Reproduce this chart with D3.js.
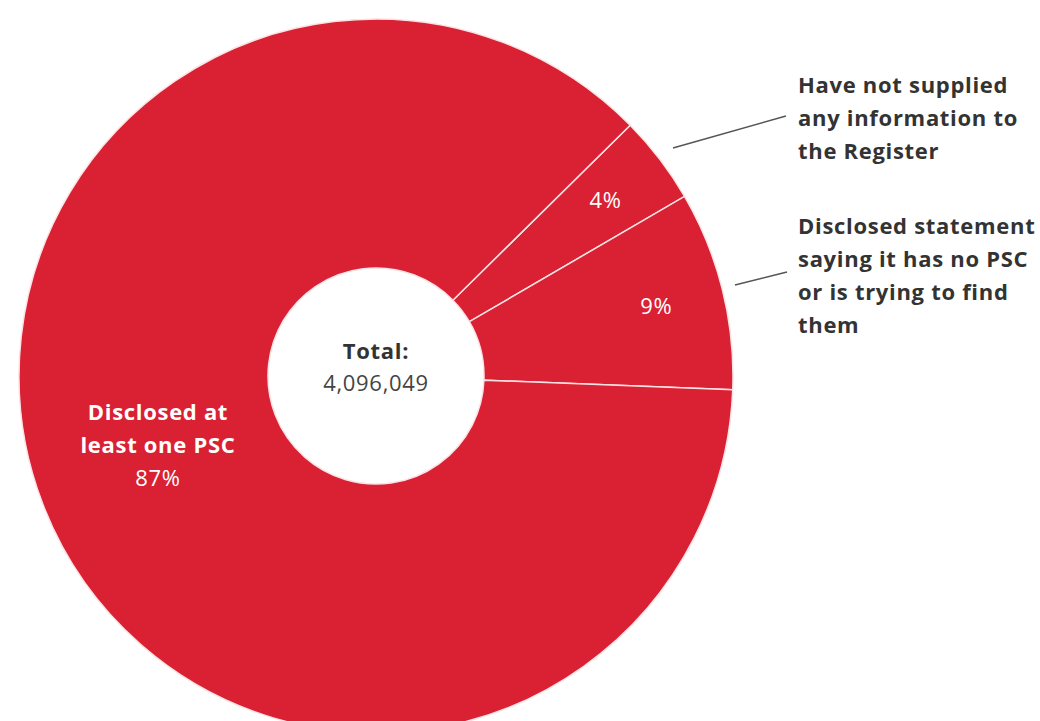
<!DOCTYPE html>
<html>
<head>
<meta charset="utf-8">
<script src="https://cdn.jsdelivr.net/npm/d3@7"></script>
<style>
  body { margin: 0; background: #fff; }
  text { font-family: "Open Sans", "Lato", sans-serif; letter-spacing: 0.7px; }
</style>
</head>
<body>
<div id="chart"></div>
<script>
// data
var categories = ["Have not supplied any information to the Register",
                  "Disclosed statement saying it has no PSC or is trying to find them",
                  "Disclosed at least one PSC"];
var shares = [4, 9, 87];
var pctLabels = ["4%", "9%", "87%"];
var total = 4096049;

var svgWidth = 1040;
var svgHeight = 721;
var cx = 376, cy = 376;
var outerR = 357, innerR = 108;
var startDeg = 45.4;

var svg = d3.select("#chart").append("svg")
  .attr("width", svgWidth)
  .attr("height", svgHeight);

var g = svg.append("g")
  .attr("transform", `translate(${cx}, ${cy})`);

var pie = d3.pie()
  .sort(null)
  .value(d => d)
  .startAngle(startDeg * Math.PI / 180)
  .endAngle(startDeg * Math.PI / 180 + 2 * Math.PI);

var arcs = pie(shares);

var arc = d3.arc().innerRadius(innerR).outerRadius(outerR);
var labelArc = d3.arc().innerRadius(289).outerRadius(289);

g.selectAll("path.slice")
  .data(arcs)
  .enter()
  .append("path")
  .attr("class", "slice")
  .attr("d", arc)
  .attr("fill", "#d92133")
  .attr("stroke", "#fbe3e5")
  .attr("stroke-width", 1.5);

// centre
g.append("text")
  .attr("text-anchor", "middle")
  .attr("y", -17)
  .attr("font-size", 22)
  .attr("font-weight", "bold")
  .attr("fill", "#333")
  .text("Total:");
g.append("text")
  .attr("text-anchor", "middle")
  .attr("y", 15)
  .attr("font-size", 22)
  .attr("fill", "#444")
  .text(d3.format(",")(total));

// small slice percentages
g.selectAll("text.pct")
  .data(arcs.slice(0, 2))
  .enter()
  .append("text")
  .attr("class", "pct")
  .attr("text-anchor", "middle")
  .attr("dy", "0.35em")
  .attr("transform", d => `translate(${labelArc.centroid(d)})`)
  .attr("font-size", 22)
  .attr("fill", "#fff")
  .text((d, i) => pctLabels[i]);

// big slice label
var bigArc = d3.arc().innerRadius(229).outerRadius(229);
var big = arcs[2];
var bigPos = bigArc.centroid({startAngle: big.startAngle + 0.06, endAngle: big.endAngle + 0.06});
var bigText = g.append("text")
  .attr("text-anchor", "middle")
  .attr("transform", `translate(${bigPos})`)
  .attr("font-size", 22)
  .attr("fill", "#fff");
bigText.append("tspan").attr("x", 0).attr("y", -26).attr("font-weight", "bold").text("Disclosed at");
bigText.append("tspan").attr("x", 0).attr("y", 7).attr("font-weight", "bold").text("least one PSC");
bigText.append("tspan").attr("x", 0).attr("y", 40).text(pctLabels[2]);

// outside labels with leader lines
var outside = [
  {lines: ["Have not supplied", "any information to", "the Register"], x: 798, y: 93, from: [673, 148], to: [786, 116]},
  {lines: ["Disclosed statement", "saying it has no PSC", "or is trying to find", "them"], x: 798, y: 234, from: [735, 285], to: [787, 272]}
];

outside.forEach(function(o) {
  svg.append("line")
    .attr("x1", o.from[0]).attr("y1", o.from[1])
    .attr("x2", o.to[0]).attr("y2", o.to[1])
    .attr("stroke", "#555")
    .attr("stroke-width", 1.5);
  var t = svg.append("text")
    .attr("font-size", 22)
    .attr("font-weight", "bold")
    .attr("fill", "#333");
  o.lines.forEach(function(line, i) {
    t.append("tspan").attr("x", o.x).attr("y", o.y + i * 33).text(line);
  });
});
</script>
</body>
</html>
